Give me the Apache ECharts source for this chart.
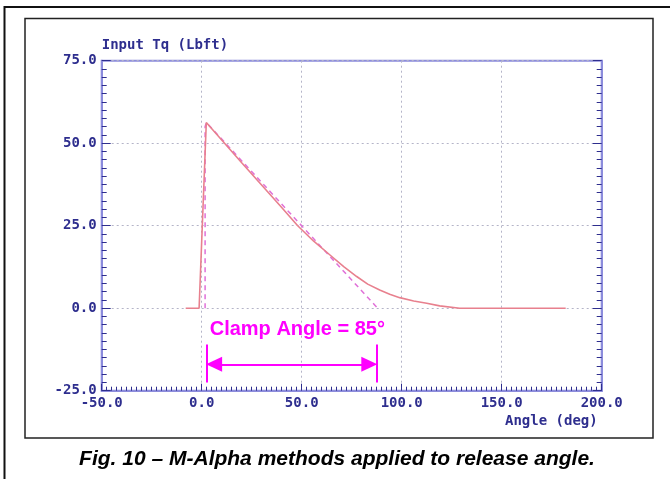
<!DOCTYPE html>
<html>
<head>
<meta charset="utf-8">
<script src="https://cdn.jsdelivr.net/npm/echarts@6/dist/echarts.min.js"></script>
<style>
html,body{margin:0;padding:0;background:#fff;}
#chart{width:670px;height:479px;}
</style>
</head>
<body>
<div id="chart"></div>
<script>
// ---- data ----
var xTicks = [-50, 0, 50, 100, 150, 200];
var yTicks = [-25, 0, 25, 50, 75];
// measured input torque (solid)
var measuredTq = [[-8,0],[-1.3,0],[2.3,56.3],[20,44.1],[40,30.5],[48,25],[56,20.3],[64,16.2],[71,12.6],[77.5,9.6],[83,7.3],[89,5.5],[94,4.2],[99,3.2],[106,2.2],[112.5,1.5],[119,0.7],[129,0],[182,0]];
// M-Alpha linear approximation (dashed)
var approxTq = [[1.7,0],[1.7,55],[2.3,56.3],[88,0]];
// clamp angle annotation (degrees / torque units)
var clampStart = 2.5, clampEnd = 87.5, clampArrowY = -17, clampBarTop = -11, clampBarBottom = -22.5;
var clampLabel = 'Clamp Angle = 85°';
var clampLabelPos = [4, -6.6];
var yTitle = 'Input Tq (Lbft)';
var xTitle = 'Angle (deg)';
var caption = 'Fig. 10 – M-Alpha methods applied to release angle.';

var navy = '#2e2e8e';
var axisCol = '#8c8cdc';
var gridCol = '#b4b4c8';
var monoFont = 'DejaVu Sans Mono';
var arrowHalf = 3.7; // half arrowhead length in degrees, so tips touch the bars

var chart = echarts.init(document.getElementById('chart'), null, {renderer:'canvas'});
var labelStyle = {color: navy, fontFamily: monoFont, fontWeight: 'bold', fontSize: 14};

var option = {
  animation: false,
  backgroundColor: '#fff',
  grid: {left: 101.7, right: 68.3, top: 60.7, bottom: 88.3, show: true, borderColor: axisCol, borderWidth: 2, backgroundColor: '#fff'},
  xAxis: {
    type: 'value', min: xTicks[0], max: xTicks[xTicks.length-1], interval: 50,
    name: xTitle, nameLocation: 'end', nameGap: -4,
    nameTextStyle: {color: navy, fontFamily: monoFont, fontWeight: 'bold', fontSize: 14, align: 'right', verticalAlign: 'top', padding: [24,0,0,0]},
    axisLine: {onZero: false, lineStyle: {color: axisCol, width: 2}},
    axisTick: {inside: true, length: 7, lineStyle: {color: navy, width: 1}},
    minorTick: {show: true, splitNumber: 20, length: 4, lineStyle: {color: navy, width: 1}},
    axisLabel: Object.assign({margin: 6, formatter: function(v){return v.toFixed(1);}}, labelStyle),
    splitLine: {show: true, lineStyle: {color: gridCol, type: [2,3], width: 1}}
  },
  yAxis: [{
    type: 'value', min: yTicks[0], max: yTicks[yTicks.length-1], interval: 25,
    name: yTitle, nameLocation: 'end', nameGap: 8,
    nameTextStyle: {color: navy, fontFamily: monoFont, fontWeight: 'bold', fontSize: 14, align: 'left', verticalAlign: 'bottom'},
    axisLine: {show: true, onZero: false, lineStyle: {color: axisCol, width: 2}},
    axisTick: {show: true, inside: true, length: 9, lineStyle: {color: navy, width: 1}},
    minorTick: {show: true, splitNumber: 10, length: 5, lineStyle: {color: navy, width: 1}},
    axisLabel: Object.assign({margin: 5, padding: [0,0,10,0], formatter: function(v){return v.toFixed(1);}}, labelStyle),
    splitLine: {show: true, lineStyle: {color: gridCol, type: [2,3], width: 1}}
  },{
    type: 'value', position: 'right', min: yTicks[0], max: yTicks[yTicks.length-1], interval: 25,
    axisLine: {show: true, onZero: false, lineStyle: {color: axisCol, width: 2}},
    axisTick: {show: true, inside: true, length: 9, lineStyle: {color: navy, width: 1}},
    minorTick: {show: true, splitNumber: 10, length: 5, lineStyle: {color: navy, width: 1}},
    axisLabel: {show: false},
    splitLine: {show: false}
  }],
  series: [
    {
      name: 'approx', type: 'line', data: approxTq, showSymbol: false, symbol: 'none',
      lineStyle: {color: '#e070d8', width: 1.5, type: [5,4]},
      markLine: {
        silent: true, symbol: 'none',
        lineStyle: {color: '#ff00ff', width: 2, type: 'solid'},
        label: {show: false},
        data: [
          [{coord: [clampStart, clampBarTop]}, {coord: [clampStart, clampBarBottom]}],
          [{coord: [clampEnd, clampBarTop]}, {coord: [clampEnd, clampBarBottom]}]
        ]
      }
    },
    {
      name: 'measured', type: 'line', data: measuredTq, showSymbol: false, symbol: 'none',
      lineStyle: {color: '#e8808e', width: 1.6},
      markLine: {
        silent: true, symbol: ['triangle','triangle'], symbolSize: [15,16],
        lineStyle: {color: '#ff00ff', width: 2, type: 'solid'},
        label: {show: false},
        data: [[{coord: [clampStart + arrowHalf, clampArrowY]}, {coord: [clampEnd - arrowHalf, clampArrowY]}]]
      },
      markPoint: {
        silent: true, symbol: 'circle', symbolSize: 0,
        label: {show: true, position: 'right', distance: 0, formatter: clampLabel, color: '#ff00ff', fontFamily: 'Liberation Sans, Arial', fontWeight: 'bold', fontSize: 20},
        data: [{coord: clampLabelPos}]
      }
    }
  ],
  graphic: [
    {type: 'rect', shape: {x: 4.5, y: 7, width: 700, height: 500}, style: {fill: 'none', stroke: '#111', lineWidth: 2}, silent: true, z: -1},
    {type: 'rect', shape: {x: 25, y: 18.5, width: 628, height: 419.5}, style: {fill: 'none', stroke: '#222', lineWidth: 1.5}, silent: true, z: -1},
    {type: 'text', x: 337, y: 459, style: {text: caption, fill: '#000', font: 'italic bold 21px "Liberation Sans", Arial, sans-serif', textAlign: 'center', textVerticalAlign: 'middle'}, silent: true}
  ]
};
chart.setOption(option);
</script>
</body>
</html>
